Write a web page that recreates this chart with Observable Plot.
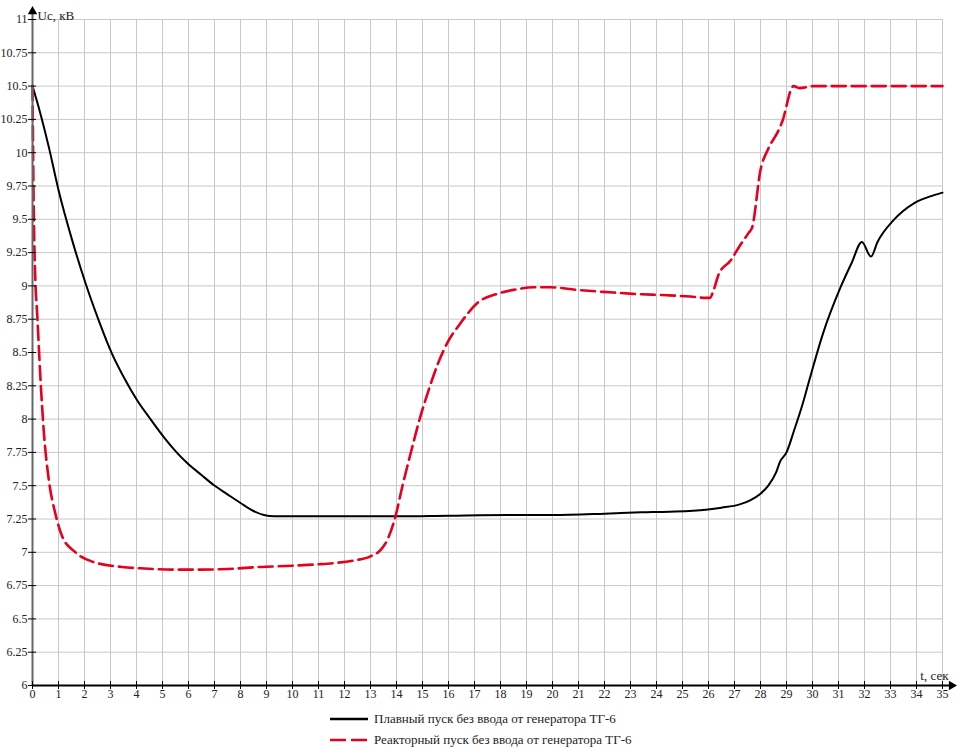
<!DOCTYPE html>
<html>
<head>
<meta charset="utf-8">
<script src="https://cdn.jsdelivr.net/npm/d3@7"></script>
<script src="https://cdn.jsdelivr.net/npm/@observablehq/plot@0.6"></script>
<style>
  html, body { margin: 0; padding: 0; background: #fff; }
  #wrap { position: relative; width: 957px; height: 752px; }
  #legend { position: absolute; left: 330px; top: 708px; font-family: "Liberation Serif", "Times New Roman", Times, serif; font-size: 13px; color: #222; }
  .row { height: 21px; line-height: 21px; display: flex; align-items: center; }
  .row svg { margin-right: 4px; }
</style>
</head>
<body>
<div id="wrap"><div id="chart"></div><div id="legend"></div></div>
<script>
// Series 1: Плавный пуск (smooth start), black solid
const tSmooth = [0, 0.24, 0.63, 1.0, 1.53, 2.04, 2.55, 3.06, 3.58, 4.03, 4.5, 5.05, 5.5, 5.95, 6.5, 6.97, 7.5, 8.0, 8.5, 8.9, 9.3, 10.3, 12, 14, 16, 18.3, 20, 22, 23.4, 24.5, 25.9, 26.5, 27.2, 27.6, 28.0, 28.3, 28.6, 28.75, 29.0, 29.3, 29.6, 29.86, 30.4, 31.08, 31.5, 31.9, 32.25, 32.5, 33.1, 33.9, 34.5, 35];
const uSmooth = [10.5, 10.34, 10.04, 9.72, 9.34, 9.02, 8.74, 8.49, 8.29, 8.14, 8.01, 7.865, 7.76, 7.67, 7.58, 7.505, 7.435, 7.37, 7.31, 7.28, 7.27, 7.27, 7.27, 7.27, 7.275, 7.28, 7.28, 7.29, 7.30, 7.305, 7.32, 7.335, 7.36, 7.39, 7.44, 7.5, 7.6, 7.68, 7.75, 7.92, 8.1, 8.28, 8.64, 8.99, 9.17, 9.33, 9.22, 9.33, 9.49, 9.62, 9.67, 9.70];

// Series 2: Реакторный пуск (reactor start), red dashed
const tReactor = [0, 0.05, 0.11, 0.18, 0.31, 0.43, 0.63, 0.88, 1.14, 1.65, 2.3, 3.45, 4.15, 5.5, 6.46, 7.5, 8.77, 10.05, 11, 11.65, 12.4, 13.0, 13.4, 13.64, 13.96, 14.22, 14.54, 14.92, 15.24, 15.6, 15.95, 16.46, 17.1, 17.87, 18.5, 19.28, 19.9, 20.95, 22.36, 23.1, 24.4, 25.3, 25.9, 26.05, 26.2, 26.4, 26.85, 27.2, 27.55, 27.68, 28.0, 28.3, 28.7, 28.83, 29.27, 29.5, 30.04, 32, 35];
const uReactor = [10.5, 9.54, 9.04, 8.79, 8.29, 7.92, 7.54, 7.29, 7.12, 7.0, 6.93, 6.89, 6.88, 6.87, 6.87, 6.875, 6.89, 6.90, 6.91, 6.92, 6.94, 6.97, 7.02, 7.09, 7.27, 7.49, 7.74, 8.02, 8.22, 8.42, 8.57, 8.72, 8.87, 8.94, 8.97, 8.99, 8.99, 8.97, 8.95, 8.94, 8.93, 8.92, 8.91, 8.91, 8.97, 9.09, 9.19, 9.30, 9.40, 9.44, 9.87, 10.03, 10.17, 10.23, 10.5, 10.485, 10.5, 10.5, 10.5];

const xTicks = d3.range(0, 36, 1);
const yTicks = d3.range(6, 11.001, 0.25).map(d => +d.toFixed(2));

const seriesNames = ["Плавный пуск без ввода от генератора ТГ-6", "Реакторный пуск без ввода от генератора ТГ-6"];
const yLabel = "Uc, кВ";
const xLabel = "t, сек";

const smooth = tSmooth.map((t, i) => ({t, u: uSmooth[i]}));
const reactor = tReactor.map((t, i) => ({t, u: uReactor[i]}));

const RED = "#e6001e";
const GRID = "#c8c8c8";
const FONT = "'Liberation Serif', 'Times New Roman', Times, serif";

const chart = Plot.plot({
  width: 957,
  height: 705,
  marginLeft: 32,
  marginRight: 15,
  marginTop: 19,
  marginBottom: 20,
  x: {domain: [0, 35], label: null},
  y: {domain: [6, 11], label: null},
  style: {fontFamily: FONT, fontSize: "12px", background: "#fff", color: "#222"},
  marks: [
    Plot.gridX(xTicks.filter(d => d > 0), {stroke: GRID, strokeOpacity: 1}),
    Plot.gridY(yTicks.filter(d => d > 6), {stroke: GRID, strokeOpacity: 1}),
    Plot.line(smooth, {x: "t", y: "u", stroke: "#000", strokeWidth: 2, curve: "monotone-x"}),
    Plot.line(reactor, {x: "t", y: "u", stroke: RED, strokeWidth: 2.6, strokeDasharray: "14,6", curve: "monotone-x"}),
    // axis lines
    Plot.ruleX([0], {y1: 6, y2: 11.06, stroke: "#666", strokeWidth: 2}),
    Plot.ruleY([6], {x1: 0, x2: 35.3, stroke: "#000", strokeWidth: 2}),
    Plot.dot([{t: 0, u: 11.06}], {x: "t", y: "u", symbol: "triangle", r: 3.5, fill: "#000", stroke: null}),
    Plot.dot([{t: 35.35, u: 6}], {x: "t", y: "u", symbol: "triangle", rotate: 90, r: 3.5, fill: "#000", stroke: null}),
    // ticks (crossing) and labels
    Plot.axisY(yTicks, {tickSize: 4, tickPadding: 1, tickFormat: d => String(d), stroke: "#000", label: null, fontFamily: FONT}),
    Plot.axisY(yTicks, {tickSize: 4, dx: 4, tickFormat: () => "", stroke: "#000", label: null}),
    Plot.axisX(xTicks, {tickSize: 4, tickPadding: 0, tickFormat: d => String(d), stroke: "#000", label: null, fontFamily: FONT}),
    Plot.axisX(xTicks, {tickSize: 4, dy: -4, tickFormat: () => "", stroke: "#000", label: null}),
    // axis titles
    Plot.text([{t: 0, u: 11, s: yLabel}], {x: "t", y: "u", text: "s", dx: 5, dy: 0, textAnchor: "start", lineAnchor: "bottom", fontSize: 13, fill: "#222", fontFamily: FONT}),
    Plot.text([{t: 35, u: 6, s: xLabel}], {x: "t", y: "u", text: "s", dx: 6, dy: -6, textAnchor: "end", lineAnchor: "bottom", fontSize: 13, fill: "#222", fontFamily: FONT})
  ]
});
document.getElementById("chart").appendChild(chart);

const legend = document.getElementById("legend");
const styles = [{stroke: "#000", dash: null, w: 2.5}, {stroke: RED, dash: "16,5", w: 2.6}];
seriesNames.forEach((name, i) => {
  const row = document.createElement("div");
  row.className = "row";
  const st = styles[i];
  row.innerHTML = `<svg width="40" height="6"><line x1="0" y1="3" x2="38" y2="3" stroke="${st.stroke}" stroke-width="${st.w}" ${st.dash ? `stroke-dasharray="${st.dash}"` : ""}/></svg><span>${name}</span>`;
  legend.appendChild(row);
});
</script>
</body>
</html>
